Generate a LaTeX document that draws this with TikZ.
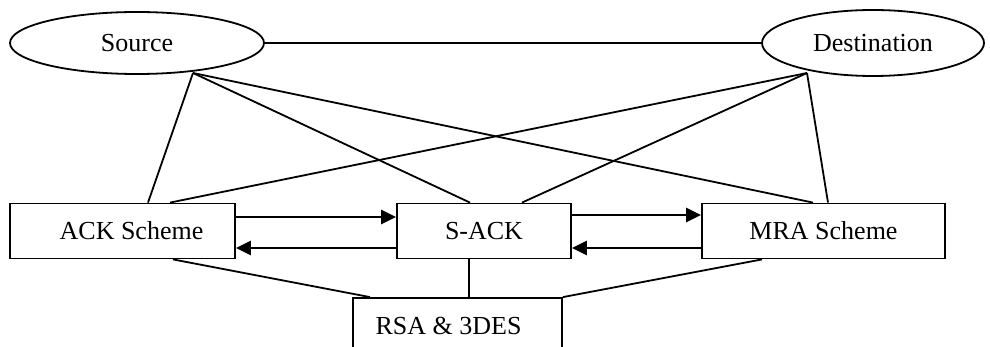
\documentclass[tikz,border=0pt]{standalone}
\usepackage{fontspec}
\setmainfont{Liberation Serif}
\usetikzlibrary{shapes.geometric,arrows.meta}
\begin{document}
\begin{tikzpicture}[x=1pt,y=-1pt,
  every node/.style={font=\fontsize{26}{30}\selectfont, inner sep=0pt},
  peer/.style={ellipse, draw, line width=1.8pt},
  block/.style={rectangle, draw, line width=1.8pt, minimum height=55pt},
  link/.style={line width=1.8pt},
  flow/.style={line width=2.6pt, -{Triangle[length=15pt,width=14pt]}}]
\useasboundingbox (0,0) rectangle (990,347);

% end points
\node[peer, minimum width=254pt, minimum height=62pt] (src) at (137,43) {Source};
\node[peer, minimum width=222pt, minimum height=66pt] (dst) at (873,43) {Destination};

% schemes
\node[block, minimum width=225pt] (ack)  at (122.5,231) {\hspace*{18pt}ACK Scheme};
\node[block, minimum width=174pt] (sack) at (484,231)   {S-ACK};
\node[block, minimum width=243pt] (mra)  at (823.5,231) {MRA Scheme};
\node[block, minimum width=209pt, minimum height=56pt] (rsa) at (457.5,326) {RSA \& 3DES\hspace*{18pt}};

\coordinate (srcfoot) at (193,73);
\coordinate (dstfoot) at (807,73);

% source to destination
\draw[link] (src.east) -- (dst.west);

% fan-out from the end points
\draw[link] (srcfoot) -- ([xshift=25.5pt]ack.north);
\draw[link] (srcfoot) -- ([xshift=-14pt]sack.north);
\draw[link] (srcfoot) -- ([xshift=-10.5pt]mra.north);
\draw[link] (dstfoot) -- ([xshift=47.5pt]ack.north);
\draw[link] (dstfoot) -- ([xshift=38pt]sack.north);
\draw[link] (dstfoot) -- ([xshift=4.5pt]mra.north);

% exchanges between schemes
\draw[flow] ([yshift=14pt]ack.east) -- ([yshift=14pt]sack.west);
\draw[flow] ([yshift=-17pt]sack.west) -- ([yshift=-17pt]ack.east);
\draw[flow] ([yshift=16pt]sack.east) -- ([yshift=16pt]mra.west);
\draw[flow] ([yshift=-17pt]mra.west) -- ([yshift=-17pt]sack.east);

% links to the cipher block
\draw[link] ([xshift=50.5pt]ack.south) -- ([xshift=-87.5pt]rsa.north);
\draw[link] ([xshift=-15pt]sack.south) -- ([xshift=11.5pt]rsa.north);
\draw[link] ([xshift=-61.5pt]mra.south) -- (rsa.north east);
\end{tikzpicture}
\end{document}
